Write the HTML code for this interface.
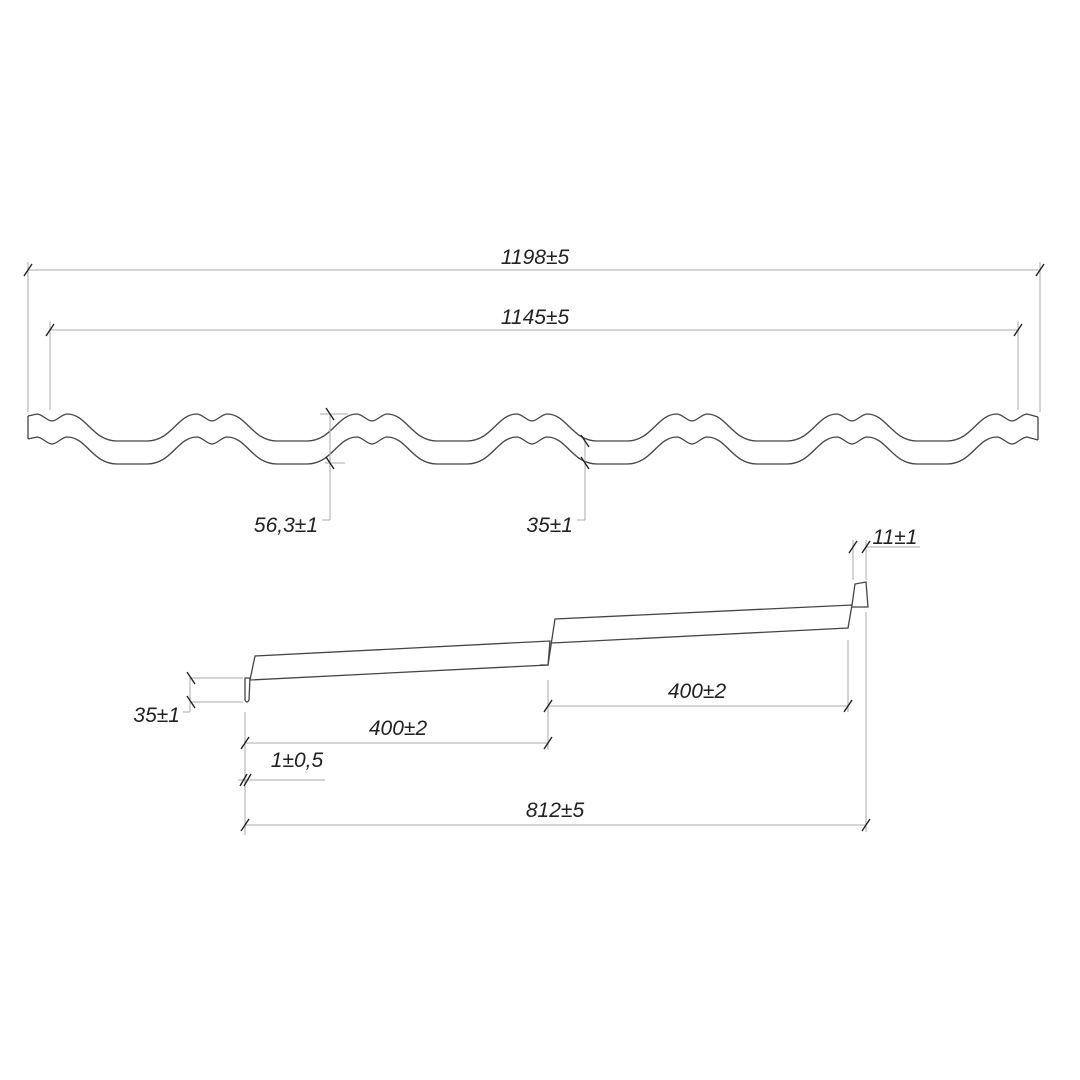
<!DOCTYPE html>
<html><head><meta charset="utf-8"><style>
html,body{margin:0;padding:0;background:#fff}
svg{display:block}
text{font-family:"Liberation Sans",sans-serif;font-style:italic;font-size:21px;fill:#222}
</style></head><body>
<svg width="1080" height="1080" viewBox="0 0 1080 1080" xmlns="http://www.w3.org/2000/svg">
<defs>
<path id="w" fill="none" d="M28,416 L37,414
c5,0 10,7 15,7 c5,0 10,-7 15,-7 c20,0 25,27 50,27 h30 c25,0 30,-27 50,-27
c5,0 10,7 15,7 c5,0 10,-7 15,-7 c20,0 25,27 50,27 h30 c25,0 30,-27 50,-27
c5,0 10,7 15,7 c5,0 10,-7 15,-7 c20,0 25,27 50,27 h30 c25,0 30,-27 50,-27
c5,0 10,7 15,7 c5,0 10,-7 15,-7 c20,0 25,27 50,27 h30 c25,0 30,-27 50,-27
c5,0 10,7 15,7 c5,0 10,-7 15,-7 c20,0 25,27 50,27 h30 c25,0 30,-27 50,-27
c5,0 10,7 15,7 c5,0 10,-7 15,-7 c20,0 25,27 50,27 h30 c25,0 30,-27 50,-27
c5,0 10,7 15,7 c5,0 10,-7 15,-7 L1038,417"/>
</defs>
<g stroke="#444" stroke-width="1.3" fill="none">
<use href="#w"/>
<use href="#w" transform="translate(0,23)"/>
<line x1="28" y1="416" x2="28" y2="439"/>
<line x1="1038" y1="417" x2="1038" y2="440"/>
</g>
<g stroke="#aaa" stroke-width="1" fill="none">
<!-- 1198 -->
<line x1="28" y1="270" x2="1040" y2="270"/>
<line x1="28" y1="262" x2="28" y2="412"/>
<line x1="1040" y1="262" x2="1040" y2="412"/>
<!-- 1145 -->
<line x1="50" y1="330" x2="1018" y2="330"/>
<line x1="50" y1="322" x2="50" y2="410"/>
<line x1="1018" y1="322" x2="1018" y2="410"/>
<!-- 56,3 -->
<line x1="330" y1="414" x2="330" y2="520"/>
<line x1="320" y1="414" x2="348" y2="414"/>
<line x1="325" y1="463" x2="345" y2="463"/>
<line x1="322" y1="520" x2="330" y2="520"/>
<!-- 35 top -->
<line x1="585" y1="441" x2="585" y2="520"/>
<line x1="577" y1="520" x2="585" y2="520"/>
<!-- bottom dims -->
<line x1="190" y1="678" x2="243" y2="678"/>
<line x1="190" y1="702" x2="243" y2="702"/>
<line x1="190" y1="678" x2="190" y2="712"/>
<line x1="183" y1="712" x2="190" y2="712"/>
<line x1="245" y1="712" x2="245" y2="835"/>
<line x1="548" y1="680" x2="548" y2="750"/>
<line x1="245" y1="743" x2="548" y2="743"/>
<line x1="548" y1="706" x2="848" y2="706"/>
<line x1="848" y1="640" x2="848" y2="712"/>
<line x1="238" y1="780" x2="325" y2="780"/>
<line x1="245" y1="825" x2="866" y2="825"/>
<line x1="866" y1="612" x2="866" y2="832"/>
<line x1="853" y1="540" x2="853" y2="580"/>
<line x1="866" y1="540" x2="866" y2="580"/>
<line x1="866" y1="547" x2="920" y2="547"/>
</g>
<g stroke="#222" stroke-width="1.4">
<line x1="24" y1="276" x2="32" y2="264"/>
<line x1="1036" y1="276" x2="1044" y2="264"/>
<line x1="46" y1="336" x2="54" y2="324"/>
<line x1="1014" y1="336" x2="1022" y2="324"/>
<line x1="326" y1="408" x2="334" y2="420"/>
<line x1="326" y1="457" x2="334" y2="469"/>
<line x1="581" y1="435" x2="589" y2="447"/>
<line x1="581" y1="457" x2="589" y2="469"/>
<line x1="187" y1="672" x2="195" y2="684"/>
<line x1="187" y1="696" x2="195" y2="708"/>
<line x1="241" y1="749" x2="249" y2="737"/>
<line x1="544" y1="749" x2="552" y2="737"/>
<line x1="544" y1="712" x2="552" y2="700"/>
<line x1="844" y1="712" x2="852" y2="700"/>
<line x1="240" y1="786" x2="247" y2="774"/>
<line x1="244" y1="786" x2="251" y2="774"/>
<line x1="241" y1="831" x2="249" y2="819"/>
<line x1="862" y1="831" x2="870" y2="819"/>
<line x1="849" y1="553" x2="857" y2="541"/>
<line x1="862" y1="553" x2="870" y2="541"/>
</g>
<g stroke="#444" stroke-width="1.3" fill="none">
<path d="M245,678 L245,700 Q247,704 249,700 L250,678 Z"/>
<path d="M250,680 L255,656 L550,641 L548,665 L250,680"/>
<path d="M540,665 L548,665 L555,619 L852,605 L848,628 L552,643"/>
<path d="M852,605 L855,584 L866,582 L868,607 L852,607"/>
</g>
<text x="535" y="264" text-anchor="middle">1198±5</text>
<text x="535" y="324" text-anchor="middle">1145±5</text>
<text x="318" y="532" text-anchor="end">56,3±1</text>
<text x="573" y="532" text-anchor="end">35±1</text>
<text x="895" y="544" text-anchor="middle">11±1</text>
<text x="180" y="722" text-anchor="end">35±1</text>
<text x="398" y="735" text-anchor="middle">400±2</text>
<text x="697" y="698" text-anchor="middle">400±2</text>
<text x="297" y="767" text-anchor="middle">1±0,5</text>
<text x="555" y="817" text-anchor="middle">812±5</text>
</svg>
</body></html>
